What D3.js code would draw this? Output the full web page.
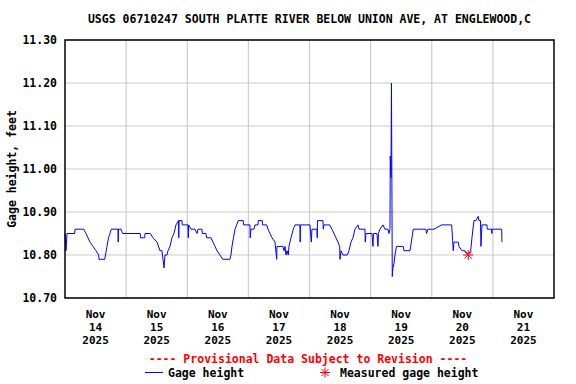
<!DOCTYPE html>
<html>
<head>
<meta charset="utf-8">
<script src="https://cdn.jsdelivr.net/npm/d3@7"></script>
<style>
  body { margin: 0; background: #fff; }
  svg text { font-family: "DejaVu Sans Mono", "Liberation Mono", monospace; font-weight: bold; font-size: 11.5px; }
</style>
</head>
<body>
<svg id="chart" width="576" height="384"></svg>
<script>
// gage height readings, hours since Nov 14 2025 00:00
const hours = [0, 0.39, 0.79, 3.81, 3.93, 7.34, 8.24, 9.03, 9.81, 10.99, 12.17, 13.23, 13.35, 15.59,
  15.9, 16.49, 17.08, 17.67, 18.18, 20.81, 20.89, 21.0, 21.99, 22.65, 29.56, 29.64, 31.29, 31.41,
  33.49, 34.55, 36.12, 37.3, 38.08, 38.47, 38.87, 39.26, 40.04, 40.44, 41.22, 42.01, 42.79, 43.58,
  44.56, 44.68, 44.76, 45.93, 46.05, 48.29, 48.41, 48.52, 49.47, 51.04, 51.82, 52.22, 53.79, 53.9,
  55.36, 55.63, 57.32, 58.1, 58.89, 59.68, 60.85, 61.91, 64.78, 65.17, 65.56, 66.15, 66.74, 67.41,
  68.04, 70.0, 70.08, 72.63, 72.71, 73.02, 74.2, 74.59, 75.77, 75.89, 77.46, 77.54, 79.19, 79.7,
  80.48, 81.27, 82.45, 83.11, 83.23, 85.58, 85.98, 86.37, 86.76, 87.16, 87.67, 87.94, 88.73, 89.63,
  90.3, 92.26, 92.34, 92.46, 96.19, 96.7, 96.97, 98.93, 99.05, 99.13, 101.29, 101.41, 101.68, 103.92,
  104.82, 105.61, 106.39, 107.18, 107.85, 107.97, 108.36, 109.14, 110.83, 111.5, 112.28, 113.07,
  113.85, 115.03, 115.42, 117.78, 117.9, 118.17, 120.53, 120.92, 121.12, 122.49, 122.88, 123.08,
  123.67, 124.85, 125.63, 126.81, 127.2, 127.6, 127.71, 127.99, 128.18, 128.5, 128.77, 129.17,
  129.56, 130.15, 132.82, 133.09, 135.45, 135.72, 136.74, 141.73, 141.92, 142.51, 144.48, 144.87,
  147.89, 151.82, 152.13, 152.45, 152.72, 153.11, 154.41, 154.68, 155.86, 157.04, 158.33, 159.28,
  159.79, 160.57, 161.36, 162.26, 162.54, 163.13, 163.32, 163.72, 165.68, 165.8, 167.52, 167.6,
  167.7, 171.45, 171.57];
const gage = [10.85, 10.81, 10.85, 10.85, 10.86, 10.86, 10.85, 10.84, 10.83, 10.82, 10.81, 10.80, 10.79, 10.79,
  10.80, 10.82, 10.84, 10.85, 10.86, 10.86, 10.83, 10.86, 10.86, 10.85, 10.85, 10.84, 10.84, 10.85,
  10.85, 10.84, 10.83, 10.81, 10.81, 10.79, 10.77, 10.80, 10.80, 10.81, 10.82, 10.84, 10.85, 10.87,
  10.88, 10.84, 10.88, 10.88, 10.87, 10.87, 10.84, 10.87, 10.86, 10.86, 10.85, 10.86, 10.86, 10.85,
  10.85, 10.84, 10.84, 10.83, 10.82, 10.81, 10.80, 10.79, 10.79, 10.80, 10.82, 10.84, 10.86, 10.87,
  10.88, 10.88, 10.87, 10.87, 10.84, 10.86, 10.86, 10.87, 10.87, 10.88, 10.88, 10.87, 10.87, 10.86,
  10.85, 10.84, 10.83, 10.79, 10.82, 10.82, 10.81, 10.82, 10.80, 10.81, 10.80, 10.82, 10.84, 10.86,
  10.87, 10.87, 10.83, 10.87, 10.87, 10.83, 10.86, 10.86, 10.84, 10.88, 10.88, 10.86, 10.87, 10.87,
  10.86, 10.85, 10.84, 10.83, 10.82, 10.79, 10.81, 10.80, 10.80, 10.81, 10.83, 10.84,
  10.86, 10.87, 10.86, 10.86, 10.83, 10.85, 10.85, 10.82, 10.85, 10.85, 10.82, 10.85,
  10.86, 10.87, 10.86, 10.86, 10.85, 10.86, 11.03, 10.98, 11.20, 10.75, 10.77, 10.78,
  10.80, 10.82, 10.82, 10.81, 10.81, 10.82, 10.86, 10.86, 10.85, 10.86, 10.86, 10.86,
  10.87, 10.87, 10.84, 10.81, 10.83, 10.83, 10.83, 10.82, 10.81, 10.81, 10.80, 10.81,
  10.84, 10.88, 10.88, 10.89, 10.88, 10.88, 10.82, 10.87, 10.87, 10.86, 10.86, 10.85,
  10.86, 10.86, 10.83];

const measuredHours = [158.33];
const measuredGage = [10.80];

const yTicks = [10.7, 10.8, 10.9, 11.0, 11.1, 11.2, 11.3];
const dayLabels = ["14", "15", "16", "17", "18", "19", "20", "21"];

const start = new Date(2025, 10, 14);
const end = new Date(2025, 10, 22);
const toDate = h => new Date(start.getTime() + h * 3600e3);

const margin = { left: 65, right: 22, top: 40, bottom: 86 };
const width = 576, height = 384;

const svg = d3.select("#chart");

const x = d3.scaleTime()
  .domain([start, end])
  .range([margin.left, width - margin.right]);

const y = d3.scaleLinear()
  .domain([10.7, 11.3])
  .range([height - margin.bottom, margin.top]);

// grid
const days = d3.timeDay.range(start, end);
svg.append("g")
  .selectAll("line")
  .data(days.slice(1))
  .join("line")
  .attr("x1", d => x(d)).attr("x2", d => x(d))
  .attr("y1", y(11.3)).attr("y2", y(10.7))
  .attr("stroke", "#cccccc").attr("stroke-width", 1.2);

svg.append("g")
  .selectAll("line")
  .data(yTicks)
  .join("line")
  .attr("x1", x.range()[0]).attr("x2", x.range()[1])
  .attr("y1", d => y(d)).attr("y2", d => y(d))
  .attr("stroke", "#cccccc").attr("stroke-width", 1.2);

// gage line
const pts = hours.map((h, i) => [toDate(h), gage[i]]);
svg.append("path")
  .datum(pts)
  .attr("d", d3.line().x(d => x(d[0])).y(d => y(d[1])))
  .attr("fill", "none")
  .attr("stroke", "#0000ff")
  .attr("stroke-width", 1);

// measured points (asterisk)
function asterisk(g, cx, cy, r) {
  for (let k = 0; k < 4; k++) {
    const a = k * Math.PI / 4;
    g.append("line")
      .attr("x1", cx - r * Math.cos(a)).attr("y1", cy - r * Math.sin(a))
      .attr("x2", cx + r * Math.cos(a)).attr("y2", cy + r * Math.sin(a))
      .attr("stroke", "#ff0000").attr("stroke-width", 1);
  }
}
const mg = svg.append("g");
measuredHours.forEach((h, i) => asterisk(mg, x(toDate(h)), y(measuredGage[i]), 5));

// frame
svg.append("rect")
  .attr("x", x.range()[0]).attr("y", y(11.3))
  .attr("width", x.range()[1] - x.range()[0])
  .attr("height", y(10.7) - y(11.3))
  .attr("fill", "none").attr("stroke", "#000").attr("stroke-width", 1.5);

// y labels
svg.append("g")
  .selectAll("text")
  .data(yTicks)
  .join("text")
  .attr("x", 57).attr("y", d => y(d) + 4)
  .attr("text-anchor", "end")
  .text(d => d3.format(".2f")(d));

svg.append("text")
  .attr("transform", `translate(16,${(y(11.3) + y(10.7)) / 2}) rotate(-90)`)
  .attr("text-anchor", "middle")
  .text("Gage height, feet");

// x labels at noon, three lines each
const xl = svg.append("g")
  .style("font-size", "11px")
  .selectAll("g")
  .data(days)
  .join("g")
  .attr("transform", d => `translate(${x(d3.timeHour.offset(d, 12))},0)`);
xl.append("text").attr("y", 318).attr("text-anchor", "middle").style("font-size", "11px").text("Nov");
xl.append("text").attr("y", 331).attr("text-anchor", "middle").style("font-size", "11px").text((d, i) => dayLabels[i]);
xl.append("text").attr("y", 344).attr("text-anchor", "middle").style("font-size", "11px").text("2025");

// title
svg.append("text")
  .attr("x", (x.range()[0] + x.range()[1]) / 2).attr("y", 23)
  .attr("text-anchor", "middle")
  .text("USGS 06710247 SOUTH PLATTE RIVER BELOW UNION AVE, AT ENGLEWOOD,C");

// legend
svg.append("text")
  .attr("x", 308).attr("y", 363)
  .attr("text-anchor", "middle")
  .attr("fill", "#ff0000")
  .text("---- Provisional Data Subject to Revision ----");

svg.append("line")
  .attr("x1", 145).attr("x2", 163).attr("y1", 372.5).attr("y2", 372.5)
  .attr("stroke", "#0000ff").attr("stroke-width", 1);
svg.append("text").attr("x", 168).attr("y", 377).text("Gage height");
asterisk(svg.append("g"), 325, 372.5, 5);
svg.append("text").attr("x", 340).attr("y", 377).text("Measured gage height");
</script>
</body>
</html>
